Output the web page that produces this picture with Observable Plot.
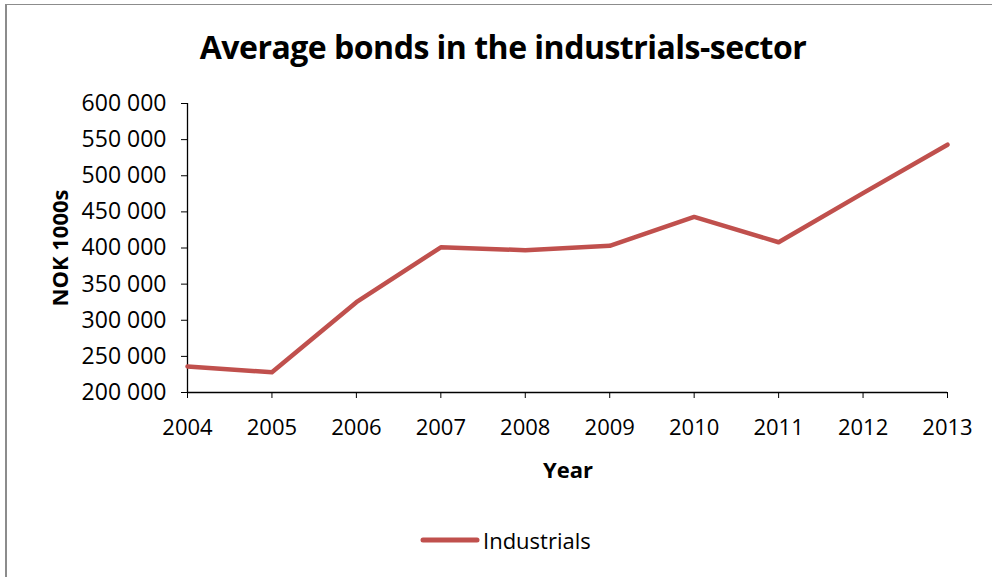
<!DOCTYPE html>
<html>
<head>
<meta charset="utf-8">
<script src="https://cdn.jsdelivr.net/npm/d3@7"></script>
<script src="https://cdn.jsdelivr.net/npm/@observablehq/plot@0.6"></script>
<style>
  html, body { margin: 0; padding: 0; background: #fff; }
  body { width: 992px; height: 577px; overflow: hidden; position: relative; font-family: "Open Sans", sans-serif; color: #000; }
  #frame { position: absolute; left: 5px; top: 4px; width: 1000px; height: 600px; border-left: 2px solid #8c8c8c; border-top: 1px solid #8c8c8c; box-sizing: border-box; }
  #title { position: absolute; left: 7px; width: 992px; top: 27px; text-align: center; font-weight: 700; font-size: 32px; letter-spacing: -0.5px; line-height: 40px; white-space: nowrap; }
  #chart { position: absolute; left: 0; top: 80px; }
  #ylabel { position: absolute; left: 59px; top: 248px; transform: translate(-50%, -50%) rotate(-90deg); font-weight: 700; font-size: 22px; white-space: nowrap; }
  #xlabel { position: absolute; left: 568px; top: 469px; transform: translate(-50%, -50%); font-weight: 700; font-size: 22px; white-space: nowrap; }
  #legend { position: absolute; left: 420px; top: 524px; height: 32px; display: flex; align-items: center; font-size: 22px; white-space: nowrap; }
  #legend svg { display: block; margin-right: 3px; }
</style>
</head>
<body>
<div id="frame"></div>
<div id="title">Average bonds in the industrials-sector</div>
<div id="chart"></div>
<div id="ylabel">NOK 1000s</div>
<div id="xlabel">Year</div>
<div id="legend"></div>
<script>
// ---- Data ----
const years = [2004, 2005, 2006, 2007, 2008, 2009, 2010, 2011, 2012, 2013];
const industrials = [236000, 228000, 325000, 401000, 397000, 403000, 443000, 408000, 476000, 543000];
const yTicks = [200000, 250000, 300000, 350000, 400000, 450000, 500000, 550000, 600000];
const seriesName = "Industrials";
const seriesColor = "#C0504D";

const data = years.map((year, i) => ({year, value: industrials[i]}));
const fmt = d => d3.format(",")(d).replace(/,/g, " ");

const plot = Plot.plot({
  width: 992,
  height: 400,
  marginTop: 23,
  marginBottom: 88,
  marginLeft: 187,
  marginRight: 45,
  style: { fontFamily: "Open Sans, sans-serif", fontSize: "22px", color: "#000", background: "transparent", overflow: "visible" },
  x: { type: "linear", domain: [years[0], years[years.length - 1]] },
  y: { domain: [yTicks[0], yTicks[yTicks.length - 1]] },
  marks: [
    Plot.axisY({ ticks: yTicks, tickFormat: fmt, tickSize: 6, tickPadding: 15, label: null, stroke: "#000", strokeOpacity: 1, fontSize: 23 }),
    Plot.axisX({ ticks: years, tickFormat: d => String(d), tickSize: 6, tickPadding: 21, label: null, stroke: "#000", strokeOpacity: 1 }),
    Plot.ruleX([years[0]], { stroke: "#000", strokeWidth: 1.3 }),
    Plot.ruleY([yTicks[0]], { stroke: "#000", strokeWidth: 1.3 }),
    Plot.line(data, { x: "year", y: "value", stroke: seriesColor, strokeWidth: 4.5, strokeLinejoin: "round", strokeLinecap: "round" })
  ]
});
document.getElementById("chart").appendChild(plot);

// Legend
const legend = document.getElementById("legend");
legend.innerHTML = `<svg width="60" height="10"><line x1="3" y1="5" x2="57" y2="5" stroke="${seriesColor}" stroke-width="5" stroke-linecap="round"/></svg><span>${seriesName}</span>`;
</script>
</body>
</html>
